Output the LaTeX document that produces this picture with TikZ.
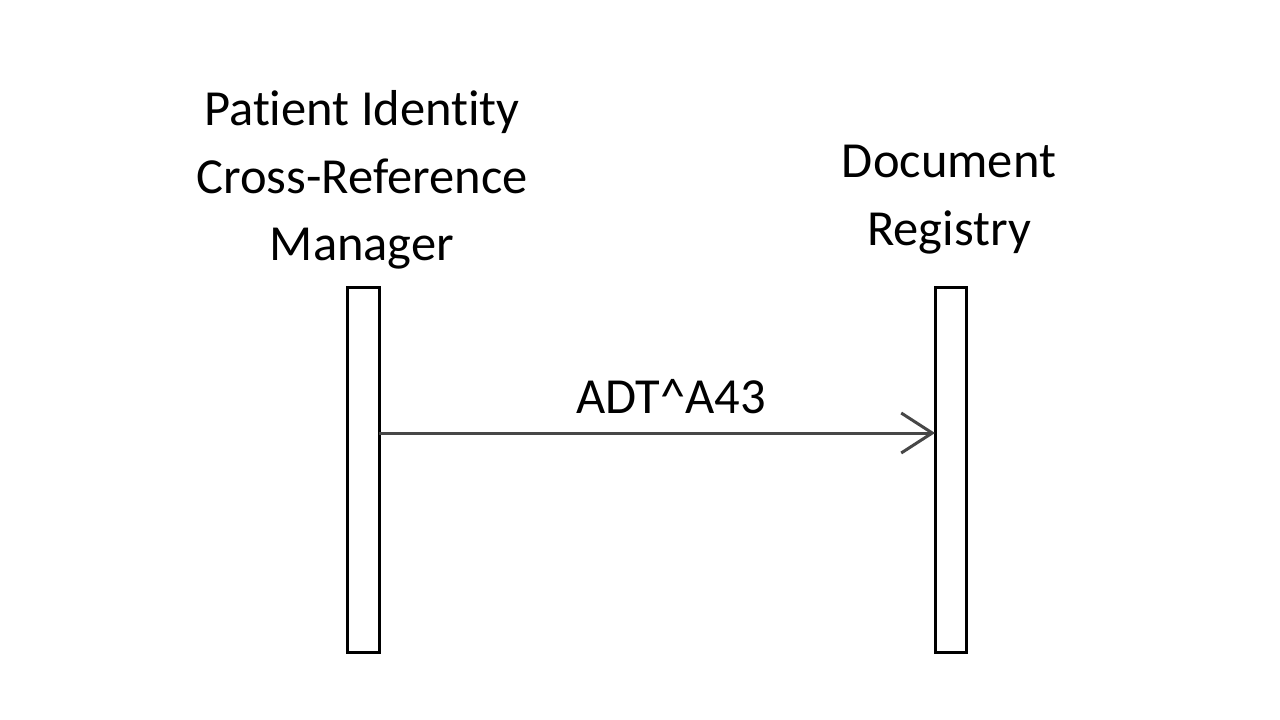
\documentclass[tikz,border=0pt]{standalone}
\usepackage{fontspec}
\setmainfont[RawFeature=-liga]{Carlito}
\usetikzlibrary{arrows.meta}
\begin{document}
\begin{tikzpicture}[x=1pt,y=-1pt,
  title/.style={font=\fontsize{50.5}{67.5}\selectfont, inner sep=0pt, anchor=base, text=black},
  msglabel/.style={font=\fontsize{50.5}{60}\selectfont, inner sep=0pt, anchor=base, text=black},
  lifeline/.style={draw=black, line width=3pt, fill=white},
  msg/.style={draw=black!72, line width=3pt, -{Straight Barb[length=31pt,width=40pt,line width=3pt]}}]
\useasboundingbox (0,0) rectangle (1280,720);
\fill[white] (0,0) rectangle (1280,720);
\node[title] (l1) at (362,125) {Patient Identity};
\node[title] (l2) at (362,193) {Cross-Reference};
\node[title] (l3) at (362,260) {Manager};
\node[title] (r1) at (949,177) {Document};
\node[title] (r2) at (949,245) {Registry};
\draw[lifeline] (347,287) rectangle (379,652);
\draw[lifeline] (935,287) rectangle (966,652);
\coordinate (src) at (379,433);
\coordinate (dst) at (935,433);
\draw[msg] (src) -- (dst);
\node[msglabel] (m) at (671,413) {ADT\textasciicircum A43};
\end{tikzpicture}
\end{document}
